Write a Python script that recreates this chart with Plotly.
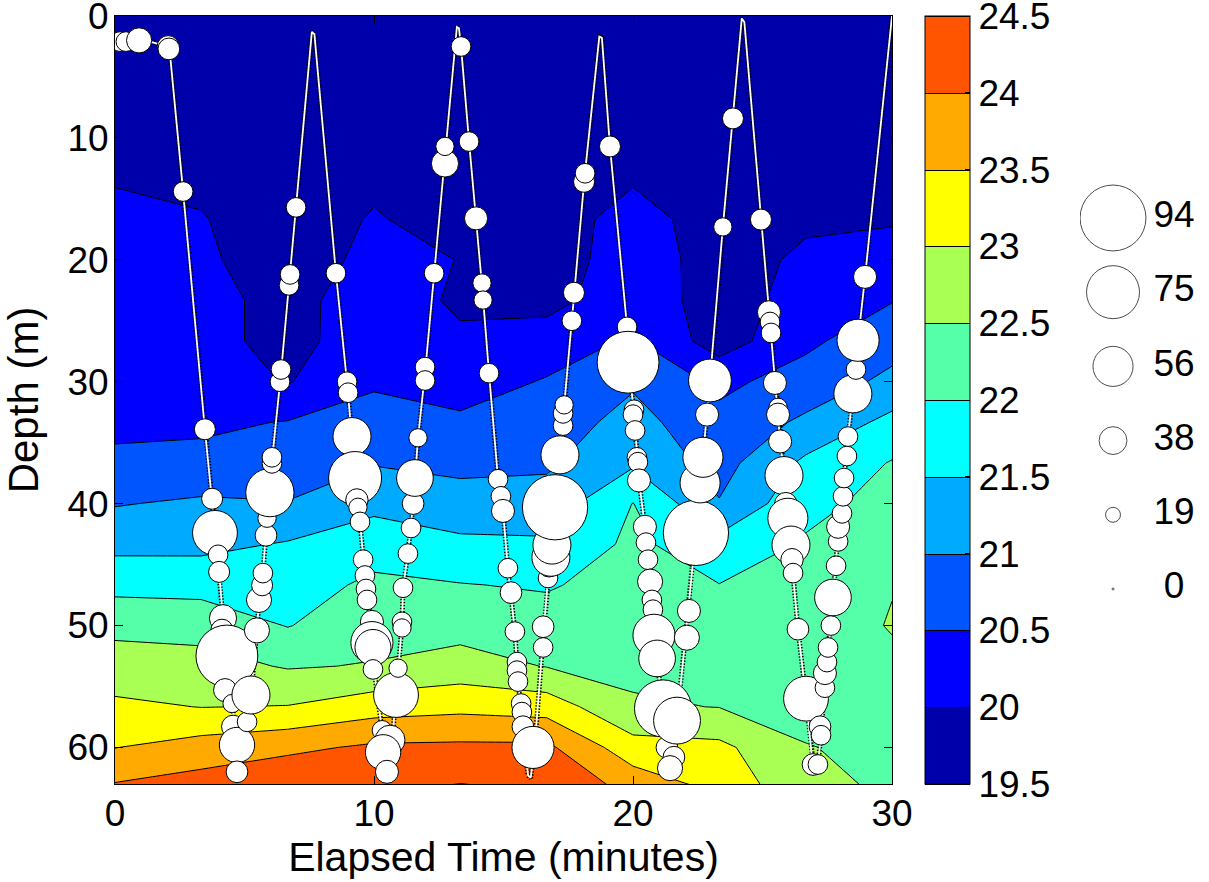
import plotly.graph_objects as go

# ---------------- data ----------------
time_grid = [0, 3.33, 6.67, 10, 13.33, 16.67, 20, 23.33, 26.67, 30]
depth_grid = [0, 3.33, 6.67, 10, 13.33, 16.67, 20, 23.33, 26.67, 30,
              33.33, 36.67, 40, 43.33, 46.67, 50, 53.33, 56.67, 60, 63.33]

# temperature profile (deg C) at each time column, listed from surface to bottom
temp_t00 = [19.6, 19.65, 19.75, 19.85, 19.98, 20.07, 20.15, 20.22, 20.30, 20.36, 20.42, 20.57, 20.97, 21.36, 21.85, 22.36, 22.74, 23.09, 23.49, 24.08]
temp_t03 = [19.6, 19.65, 19.75, 19.85, 19.93, 20.02, 20.08, 20.15, 20.2, 20.26, 20.42, 20.62, 21.08, 21.37, 21.82, 22.32, 22.68, 22.99, 23.71, 24.25]
temp_t07 = [19.6, 19.62, 19.65, 19.7, 19.75, 19.8, 19.75, 19.85, 19.8, 19.97, 20.52, 20.76, 21.02, 21.54, 21.77, 21.98, 22.46, 23.02, 23.89, 24.45]
temp_t10 = [19.65, 19.7, 19.78, 19.85, 19.93, 20.03, 20.13, 20.24, 20.34, 20.45, 20.65, 20.97, 21.37, 21.78, 22.10, 22.30, 22.53, 23.28, 24.08, 24.42]
temp_t13 = [19.6, 19.62, 19.65, 19.7, 19.75, 19.85, 19.99, 19.93, 20.07, 20.32, 20.57, 20.87, 21.21, 21.60, 22.02, 22.31, 22.71, 23.37, 24.10, 24.55]
temp_t17 = [19.6, 19.65, 19.7, 19.75, 19.8, 19.86, 19.75, 19.8, 20.29, 20.53, 20.72, 20.92, 21.21, 21.57, 21.95, 22.22, 22.48, 23.28, 24.1, 24.45]
temp_t20 = [19.65, 19.7, 19.78, 19.87, 19.97, 20.11, 20.25, 20.38, 20.55, 20.93, 21.19, 21.43, 22.01, 22.11, 22.21, 22.31, 22.41, 22.55, 23.2, 23.85]
temp_t23 = [19.6, 19.62, 19.65, 19.7, 19.72, 19.87, 19.80, 19.71, 19.75, 20.4, 20.62, 20.81, 21.03, 21.67, 22.01, 22.17, 22.33, 22.49, 23.12, 23.4]
temp_t27 = [19.65, 19.7, 19.75, 19.8, 19.86, 19.93, 20.08, 20.24, 20.41, 20.68, 21.10, 21.60, 21.87, 22.05, 22.14, 22.23, 22.32, 22.42, 22.51, 22.6]
temp_t30 = [19.7, 19.75, 19.8, 19.85, 19.9, 19.96, 20.18, 20.48, 20.79, 21.13, 21.64, 22.03, 22.15, 22.3, 22.48, 22.53, 22.4, 22.42, 22.44, 22.45]

temp_columns = [temp_t00, temp_t03, temp_t07, temp_t10, temp_t13,
                temp_t17, temp_t20, temp_t23, temp_t27, temp_t30]

levels_start, levels_end, levels_step = 19.5, 24.5, 0.5
colorbar_ticks = [19.5, 20, 20.5, 21, 21.5, 22, 22.5, 23, 23.5, 24, 24.5]
colorbar_ticktext = ["19.5", "20", "20.5", "21", "21.5", "22", "22.5", "23", "23.5", "24", "24.5"]

# dive track (minutes, metres)
track_time = [0.0, 0.5, 1.0, 1.7, 2.1,
              2.63, 3.47, 3.75, 3.86, 4.02, 4.17, 4.32, 4.52, 4.71, 4.78,
              5.1, 5.25, 5.48, 5.56, 5.71, 5.87, 5.98, 6.06, 6.4, 6.74, 6.99, 7.6,
              7.7, 8.53, 8.98, 9.15, 9.27, 9.46, 9.65, 9.92, 10.0, 10.31, 10.5,
              10.6, 10.85, 11.08, 11.12, 11.31, 11.51, 11.58, 11.7, 11.97, 12.32, 12.74, 13.2,
              13.28, 13.36, 13.67, 13.94, 14.19, 14.44, 14.79, 14.98, 15.17, 15.44, 15.56, 15.75, 15.95, 16.05,
              16.2, 16.53, 16.72, 16.99, 17.18, 17.32, 17.68, 18.13, 18.7,
              18.8, 19.11, 19.77, 19.9, 20.04, 20.23, 20.46, 20.66, 20.81, 20.93, 21.16, 21.31, 21.4,
              21.6, 21.7, 22.1, 22.43, 22.7, 22.86, 22.97, 23.47, 23.86, 24.2,
              24.3, 24.94, 25.3, 25.48, 25.68, 25.83, 25.98, 26.18, 26.37, 26.68, 26.95, 27.0,
              27.14, 27.26, 27.41, 27.64, 27.72, 27.92, 28.15, 28.3, 28.49, 28.69, 28.96, 30.0]
track_depth = [2.0, 2.0, 1.9, 2.3, 2.6,
               14.4, 33.9, 39.6, 42.4, 45.6, 49.4, 52.5, 56.4, 59.8, 62.3,
               57.9, 55.7, 50.4, 47.9, 45.7, 41.2, 39.1, 36.5, 29.5, 21.6, 15.7, 1.3,
               1.5, 21.1, 30.5, 34.5, 37.9, 41.5, 45.9, 50.5, 53.6, 58.6, 62.2,
               62.0, 55.7, 50.0, 46.9, 44.1, 40.0, 37.9, 34.6, 29.3, 21.1, 11.4, 0.9,
               1.0, 2.5, 10.3, 16.6, 22.6, 29.3, 38.0, 40.6, 45.3, 50.5, 54.6, 58.3, 62.3, 62.5,
               60.0, 51.0, 46.1, 40.3, 36.0, 32.5, 24.0, 13.2, 1.7,
               1.8, 10.7, 25.5, 30.0, 32.5, 38.1, 41.9, 46.4, 50.8, 52.7, 56.8, 60.0, 62.5,
               60.0, 57.8, 49.5, 42.4, 36.2, 32.7, 29.9, 17.3, 8.4, 0.2,
               0.5, 16.7, 25.1, 30.1, 34.9, 37.7, 41.2, 45.7, 50.3, 56.0, 61.7, 62.0,
               61.4, 59.0, 54.5, 50.0, 47.7, 42.5, 37.9, 34.5, 31.0, 26.6, 21.4, 0.0]

# bubbles along the track: time (min), depth (m), value
bubble_time = [0.19, 0.42, 0.93, 2.05, 2.08,
               2.63, 3.47, 3.75, 3.86, 3.98, 4.02, 4.17, 4.13, 4.32, 4.25, 4.52, 4.56, 4.71, 4.71,
               5.10, 5.25, 5.48, 5.56, 5.68, 5.71, 5.83, 5.87, 5.98, 6.06, 6.06, 6.37, 6.41, 6.72, 6.76, 6.99,
               8.53, 8.96, 9.00, 9.15, 9.27, 9.34, 9.38, 9.46, 9.58, 9.65, 9.69, 9.73, 9.92, 9.92, 9.96, 9.96,
               10.31, 10.62, 10.35, 10.50,
               10.85, 10.93, 11.08, 11.08, 11.12, 11.31, 11.43, 11.51, 11.58, 11.70, 11.97, 11.97, 12.32, 12.74, 12.74,
               13.36, 13.67, 13.94, 14.17, 14.21, 14.44, 14.79, 14.90, 14.98, 15.17, 15.29, 15.44, 15.52, 15.52,
               15.56, 15.68, 15.71, 15.75, 16.14,
               16.53, 16.53, 16.72, 16.76, 16.83, 16.87, 16.99, 17.18, 17.30, 17.30, 17.34, 17.64, 17.72, 18.11, 18.15,
               19.11, 19.77, 19.81, 20.04, 20.00, 20.08, 20.15, 20.19, 20.23, 20.46, 20.50, 20.58, 20.66, 20.73,
               20.77, 20.81, 20.93, 21.16, 21.31, 21.58, 21.43,
               21.70, 22.08, 22.16, 22.43, 22.59, 22.70, 22.86, 22.97, 23.47, 23.86,
               24.94, 25.25, 25.29, 25.33, 25.48, 25.60, 25.60, 25.68, 25.83, 25.90, 25.98, 26.10, 26.14, 26.18,
               26.37, 26.68, 26.95,
               27.14, 27.22, 27.26, 27.41, 27.41, 27.49, 27.53, 27.64, 27.72, 27.84, 27.92, 27.92, 28.07, 28.11,
               28.15, 28.26, 28.30, 28.42, 28.49, 28.61, 28.69, 28.96]
bubble_depth = [2.1, 2.1, 2.0, 2.5, 2.7,
                14.4, 33.9, 39.6, 42.4, 44.2, 45.6, 49.4, 50.4, 52.5, 55.3, 56.4, 58.3, 59.8, 62.0,
                57.9, 55.7, 50.4, 47.9, 46.7, 45.7, 42.6, 41.2, 39.1, 36.7, 36.2, 30.0, 29.0, 22.1, 21.2, 15.7,
                21.1, 30.0, 30.9, 34.5, 37.9, 39.7, 40.3, 41.5, 44.6, 45.9, 47.0, 47.9, 49.7, 51.4, 51.8, 53.6,
                58.6, 59.4, 60.4, 62.0,
                55.7, 53.5, 49.7, 50.2, 46.9, 44.1, 42.0, 40.0, 37.9, 34.6, 28.8, 29.9, 21.1, 12.1, 10.7,
                2.5, 10.3, 16.6, 21.9, 23.3, 29.3, 38.0, 39.4, 40.6, 45.3, 47.3, 50.5, 53.0, 53.7,
                54.6, 56.4, 57.1, 58.3, 60.0,
                51.8, 50.1, 46.1, 45.1, 44.4, 43.4, 40.3, 36.0, 33.6, 32.6, 31.9, 25.0, 22.7, 13.6, 12.9,
                10.7, 25.5, 28.4, 32.3, 32.7, 34.0, 36.2, 36.6, 38.1, 41.9, 43.2, 44.6, 46.4, 47.9,
                48.7, 50.8, 52.7, 56.8, 60.0, 60.8, 61.7,
                57.8, 51.0, 48.8, 42.4, 38.3, 36.2, 32.7, 29.9, 17.3, 8.4,
                16.7, 24.3, 25.1, 26.0, 30.1, 32.1, 32.7, 34.9, 37.7, 40.0, 41.2, 43.4, 44.6, 45.7,
                50.3, 56.0, 61.4,
                61.4, 58.3, 59.0, 55.1, 53.9, 53.0, 51.8, 50.0, 47.7, 45.1, 43.1, 41.9, 40.8, 39.4,
                37.9, 36.1, 34.5, 31.7, 31.0, 29.0, 26.6, 21.4]
bubble_value = [26, 26, 34, 29, 29,
                26, 28, 28, 63, 26, 28, 37, 30, 88, 31, 24, 31, 49, 29,
                26, 53, 34, 34, 28, 26, 29, 24, 68, 26, 26, 26, 26, 26, 26, 26,
                26, 26, 26, 53, 75, 30, 24, 26, 26, 26, 26, 26, 31, 59, 50, 26,
                26, 41, 49, 31,
                63, 24, 26, 24, 26, 26, 26, 29, 51, 24, 26, 26, 26, 37, 24,
                26, 26, 31, 24, 24, 26, 26, 26, 31, 26, 29, 26, 26, 26,
                26, 26, 26, 29, 59,
                26, 29, 26, 30, 53, 53, 93, 53, 26, 26, 24, 26, 28, 28, 26,
                28, 26, 88, 26, 26, 26, 26, 26, 31, 31, 26, 26, 34, 26,
                26, 59, 51, 81, 29, 29, 34,
                66, 34, 31, 93, 56, 56, 31, 60, 24, 28,
                28, 31, 26, 26, 31, 24, 31, 31, 53, 30, 56, 53, 30, 26,
                29, 63, 29,
                26, 29, 26, 26, 31, 26, 26, 26, 51, 26, 26, 31, 26, 26,
                26, 26, 26, 26, 53, 26, 59, 31]

legend_values = [94, 75, 56, 38, 19, 0]
legend_labels = ["94", "75", "56", "38", "19", "0"]

x_ticks = [0, 10, 20, 30]
y_ticks = [0, 10, 20, 30, 40, 50, 60]

# ---------------- styling helpers ----------------
jet_colors = ["#0000AA", "#0000FF", "#0055FF", "#00AAFF", "#00FFFF",
              "#55FFAA", "#AAFF55", "#FFFF00", "#FFAA00", "#FF5500"]
colorscale = []
n = len(jet_colors)
for i, c in enumerate(jet_colors):
    colorscale.append([i / n, c])
    colorscale.append([(i + 1) / n, c])


def bubble_px(v):
    return 2 + 0.68 * v


FONT = "Liberation Sans, Arial, Helvetica, sans-serif"
W, H = 1209, 882
ML, MT, MB, MR = 115, 16, 98, 0
paper_w = W - ML - MR
plot_right_px = 892
main_dom = (plot_right_px - ML) / paper_w

temp_rows = [list(r) for r in zip(*temp_columns)]

fig = go.Figure()

fig.add_trace(go.Contour(
    x=time_grid, y=depth_grid, z=temp_rows,
    zmin=levels_start, zmax=levels_end, zauto=False,
    autocontour=False,
    contours=dict(start=levels_start, end=levels_end, size=levels_step,
                  coloring="fill", showlines=True),
    line=dict(color="black", width=1, smoothing=0),
    colorscale=colorscale,
    colorbar=dict(
        x=(925 - ML) / paper_w, xanchor="left", xpad=0,
        y=0.5, yanchor="middle", len=1, lenmode="fraction", ypad=0,
        thickness=45, thicknessmode="pixels",
        outlinewidth=1, outlinecolor="black",
        tickmode="array", tickvals=colorbar_ticks, ticktext=colorbar_ticktext,
        ticks="inside", ticklen=5, tickcolor="black",
        ticklabeloverflow="allow",
        tickfont=dict(family=FONT, size=37, color="black"),
    ),
    hoverinfo="skip",
))

# dive track: dark beads + thin white line
fig.add_trace(go.Scatter(
    x=track_time, y=track_depth, mode="lines",
    line=dict(color="black", width=5, dash="1.4px,1.6px"),
    showlegend=False, hoverinfo="skip"))
fig.add_trace(go.Scatter(
    x=track_time, y=track_depth, mode="lines",
    line=dict(color="white", width=1.8),
    showlegend=False, hoverinfo="skip"))

fig.add_trace(go.Scatter(
    x=bubble_time, y=bubble_depth, mode="markers",
    marker=dict(size=[bubble_px(v) for v in bubble_value], color="white",
                line=dict(color="black", width=1), opacity=1),
    showlegend=False, hoverinfo="skip"))

# size legend on a side axis
legend_index = list(range(len(legend_values)))
fig.add_trace(go.Scatter(
    x=[0.256] * len(legend_values), y=legend_index, mode="markers",
    marker=dict(size=[bubble_px(v) for v in legend_values], color="white",
                line=dict(color="black", width=1)),
    xaxis="x2", yaxis="y2", showlegend=False, hoverinfo="skip"))
fig.add_trace(go.Scatter(
    x=[0.729] * len(legend_values), y=legend_index, mode="text",
    text=legend_labels, textposition="middle center",
    textfont=dict(family=FONT, size=37, color="black"),
    xaxis="x2", yaxis="y2", showlegend=False, hoverinfo="skip"))

axis_common = dict(
    showline=True, linecolor="black", linewidth=1, mirror="ticks",
    ticks="inside", ticklen=8, tickwidth=1, tickcolor="black",
    showgrid=False, zeroline=False, ticklabeloverflow="allow",
    automargin=False,
    tickfont=dict(family=FONT, size=37, color="black"),
)

fig.update_layout(
    template="none",
    width=W, height=H,
    margin=dict(l=ML, r=MR, t=MT, b=MB, pad=0, autoexpand=False),
    paper_bgcolor="white", plot_bgcolor="white",
    font=dict(family=FONT, color="black"),
    showlegend=False,
    xaxis=dict(domain=[0, main_dom], range=[0, 30], tickvals=x_ticks,
               ticklabelstandoff=-3,
               title=dict(text="Elapsed Time (minutes)", standoff=4,
                          font=dict(family=FONT, size=41, color="black")),
               **axis_common),
    yaxis=dict(range=[63, 0], tickvals=y_ticks, ticklabelstandoff=-2,
               title=dict(text="Depth (m)", standoff=26,
                          font=dict(family=FONT, size=42, color="black")),
               **axis_common),
    xaxis2=dict(domain=[(1080 - ML) / paper_w, 1.0], range=[0, 1], visible=False,
                anchor="y2", automargin=False),
    yaxis2=dict(domain=[0, 1], range=[7.628, -2.722], visible=False, anchor="x2",
                automargin=False),
)

fig.write_html("out.html", config={"responsive": False, "displayModeBar": False},
               post_script="document.body.style.margin='0';document.body.style.overflow='hidden';")
